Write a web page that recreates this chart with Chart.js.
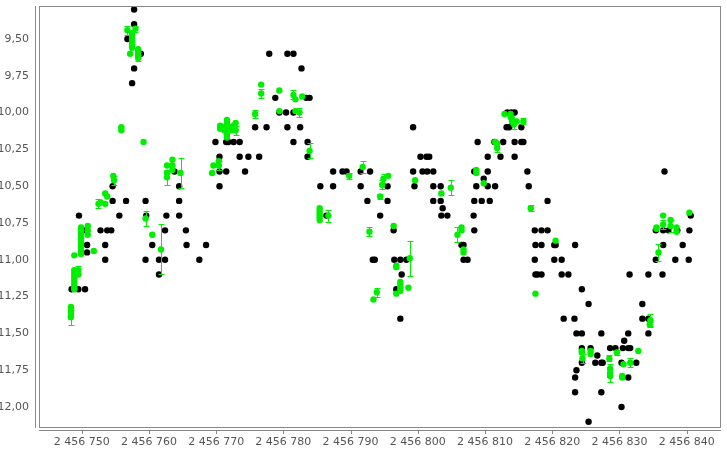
<!DOCTYPE html>
<html>
<head>
<meta charset="utf-8">
<script src="https://cdn.jsdelivr.net/npm/chart.js@4.4.1/dist/chart.umd.min.js"></script>
<style>
  body { margin: 0; background: #fff; }
  #wrap { width: 727px; height: 454px; }
</style>
</head>
<body>
<div id="wrap"><canvas id="chart" width="727" height="454"></canvas></div>
<script>
// Julian dates are kept as days after JD0
const JD0 = 2456700;

// visual estimates (black)
const visDay = [
  57.8, 57.8, 56.8, 58.8, 57.8, 57.5,
  54.6, 54.6, 56.6, 59.5, 64.5, 63.8, 64.5,
  49.6, 55.6, 59.6, 62.6, 64.5,
  50.6, 52.8, 53.8, 54.4, 62.4, 65.5,
  50.8, 53.5, 60.5, 65.6, 68.5, 50.8,
  53.5, 59.5, 61.5, 62.4, 67.5, 61.5,
  48.5, 49.5, 50.5,
  77.9, 80.6, 81.5, 82.7, 78.8, 83.4, 83.9,
  79.4, 80.4, 81.5, 75.8, 77.5, 80.6, 82.5,
  69.9, 71.5, 71.8, 72.6, 73.5, 81.5, 83.6,
  70.5, 73.5, 74.8, 76.4, 83.6,
  70.5, 71.5, 74.3, 70.5, 85.5, 86.4,
  99.3, 100.4, 101.3, 101.7,
  87.4, 88.8, 89.4, 91.5, 92.9, 99.3, 100.7, 101.4, 102.3,
  87.4, 91.5, 95.5, 99.5, 102.3, 103.4,
  92.5, 95.5, 102.3, 103.4, 103.7,
  103.5, 104.4, 94.4, 96.4,
  93.3, 93.6, 96.5, 97.4, 98.3, 97.6, 96.8, 97.4,
  113.3, 113.9, 114.4, 113.2, 113.6, 115.4,
  108.9, 111.4, 112.7, 114.4, 115.4, 115.7,
  110.4, 112.3, 114.4, 108.4, 110.4, 116.3, 109.8,
  108.7, 110.4, 111.5, 116.5,
  108.4, 109.5, 110.7, 119.3, 108.3,
  108.4, 117.4, 118.4, 119.3,
  106.5, 106.8, 117.5, 118.4, 120.3, 120.5, 123.4,
  106.8, 107.4, 117.4, 120.3, 121.4,
  117.5, 117.8, 118.4, 121.4, 122.4,
  124.4, 125.4, 133.4, 121.7, 123.3, 133.4, 134.3,
  123.6, 124.4, 127.3, 131.3, 134.3, 130.7,
  124.4, 125.7, 128.6, 129.4, 130.5, 131.3, 131.6, 126.7,
  124.4, 126.4, 127.3, 127.5, 130.3, 132.5, 123.6,
  123.4, 131.3, 123.4, 127.3, 130.3, 125.4,
  136.7, 140.6, 135.4, 136.5, 137.3, 138.6, 140.4,
  136.5, 139.4, 135.4, 138.3, 140.3,
  131.5, 134.3, 136.4
];
const visMag = [
  9.3, 9.4, 9.5, 9.6, 9.7, 9.8,
  10.5, 10.6, 10.6, 10.6, 10.6, 10.4, 10.5,
  10.7, 10.7, 10.7, 10.7, 10.7,
  10.8, 10.8, 10.8, 10.8, 10.8, 10.8,
  10.9, 10.9, 10.9, 10.9, 10.9, 10.95,
  11.0, 11.0, 11.0, 11.0, 11.0, 11.1,
  11.2, 11.2, 11.2,
  9.6, 9.6, 9.6, 9.7, 9.9, 9.9, 9.9,
  10.0, 10.0, 10.0, 10.1, 10.1, 10.1, 10.1,
  10.2, 10.2, 10.2, 10.2, 10.2, 10.2, 10.2,
  10.3, 10.3, 10.3, 10.3, 10.3,
  10.4, 10.4, 10.4, 10.5, 10.5, 10.7,
  10.1, 10.3, 10.3, 10.3,
  10.4, 10.4, 10.4, 10.4, 10.4, 10.4, 10.4, 10.4, 10.4,
  10.5, 10.5, 10.5, 10.5, 10.5, 10.5,
  10.6, 10.6, 10.6, 10.6, 10.65,
  10.7, 10.7, 10.7, 10.8,
  11.0, 11.0, 11.0, 11.0, 11.0, 11.1, 11.2, 11.4,
  10.0, 10.0, 10.0, 10.1, 10.1, 10.1,
  10.2, 10.2, 10.2, 10.2, 10.2, 10.2,
  10.3, 10.3, 10.3, 10.4, 10.4, 10.4, 10.45,
  10.5, 10.5, 10.5, 10.5,
  10.6, 10.6, 10.6, 10.6, 10.7,
  10.8, 10.8, 10.8, 10.8,
  10.9, 10.9, 10.9, 10.9, 10.9, 10.9, 10.9,
  11.0, 11.0, 11.0, 11.0, 11.0,
  11.1, 11.1, 11.1, 11.1, 11.1,
  11.2, 11.3, 11.3, 11.4, 11.4, 11.4, 11.4,
  11.5, 11.5, 11.5, 11.5, 11.5, 11.55,
  11.6, 11.6, 11.6, 11.6, 11.6, 11.6, 11.6, 11.65,
  11.7, 11.7, 11.7, 11.7, 11.7, 11.7, 11.75,
  11.8, 11.8, 11.9, 11.9, 12.0, 12.1,
  10.4, 10.7, 10.8, 10.8, 10.8, 10.8, 10.8,
  10.9, 10.9, 11.0, 11.0, 11.0,
  11.1, 11.1, 11.1
];

// V measurements (green) with their errors
const vDay = [
  48.4, 48.4, 48.4, 48.4, 48.4,
  48.9, 48.9, 48.9, 48.9, 48.9, 48.9, 48.9, 48.9,
  49.5, 49.5, 48.9,
  49.9, 49.9, 49.9, 49.9, 49.9, 49.9, 49.9, 49.9, 49.9, 49.9,
  50.9, 50.9, 50.9, 51.8,
  52.5, 52.8, 53.5, 53.5, 53.8, 54.7, 54.8,
  55.9, 55.9, 57.2, 56.8, 58.0,
  57.5, 57.5, 57.5, 57.5, 57.5, 57.5, 58.4, 58.4, 58.4, 58.4,
  59.2, 59.5, 60.5, 61.8,
  62.7, 62.7, 62.7, 63.5, 63.5, 63.5, 64.7,
  69.4, 69.6, 70.4, 70.4,
  70.6, 70.6, 71.2, 71.2,
  71.6, 71.6, 71.6, 71.6, 71.6, 71.6, 71.6,
  72.2, 72.2, 72.6, 72.6, 72.9, 72.9,
  75.8, 76.7, 76.7, 79.4, 79.4, 81.5, 81.8, 81.8, 82.4, 82.8, 83.9,
  85.4, 85.4, 85.4, 85.4, 85.4, 86.7,
  89.8, 91.8, 92.8, 93.4, 93.9, 94.4, 94.7, 94.9, 95.6, 96.4,
  96.8, 96.8, 96.8, 97.4, 97.4, 97.4, 97.4, 98.6, 98.8, 99.6,
  103.5, 104.9, 105.9, 106.5, 106.5, 106.8, 106.8,
  108.7, 108.7, 109.8, 111.5, 111.8, 111.8,
  112.9, 113.8, 113.8, 114.0, 114.0, 114.3, 114.7, 115.7,
  116.8, 117.5, 120.5,
  124.4, 124.4, 124.5, 125.7, 125.7, 128.5, 128.6, 128.6, 128.6, 129.6,
  130.4, 130.4, 130.6, 131.6, 132.8, 134.5, 134.6,
  135.5, 135.5, 135.8, 136.5, 136.5, 137.6, 137.6, 138.5, 138.5, 140.4
];
const vMag = [
  11.32, 11.34, 11.36, 11.38, 11.39,
  11.07, 11.09, 11.11, 11.13, 11.15, 11.17, 11.19, 11.20,
  11.07, 11.10, 10.97,
  10.78, 10.80, 10.82, 10.84, 10.86, 10.88, 10.90, 10.92, 10.94, 10.96,
  10.77, 10.80, 10.83, 10.94,
  10.62, 10.61, 10.55, 10.62, 10.57, 10.43, 10.46,
  10.10, 10.12, 9.60, 9.44, 9.43,
  9.46, 9.48, 9.50, 9.52, 9.54, 9.56, 9.57, 9.59, 9.61, 9.63,
  10.20, 10.72, 10.83, 10.93,
  10.36, 10.41, 10.44, 10.32, 10.36, 10.39, 10.41,
  10.41, 10.36, 10.33, 10.36,
  10.09, 10.11, 10.10, 10.12,
  10.05, 10.07, 10.09, 10.11, 10.13, 10.15, 10.17,
  10.10, 10.12, 10.09, 10.11, 10.07, 10.12,
  10.01, 9.81, 9.87, 9.85, 9.99, 9.88, 9.91, 9.99, 10.00, 9.89, 10.26,
  10.65, 10.67, 10.69, 10.71, 10.73, 10.70,
  10.43, 10.37, 10.81, 11.27, 11.22, 10.57, 10.49, 10.45, 10.43, 10.77,
  11.04, 11.05, 11.23, 11.15, 11.17, 11.19, 11.21, 11.19, 10.99, 10.46,
  10.55, 10.51, 10.83, 10.78, 10.80, 10.93, 10.95,
  10.39, 10.41, 10.48, 10.20, 10.21, 10.24,
  10.01, 10.01, 10.03, 10.04, 10.06, 10.08, 10.06, 10.06,
  10.65, 11.23, 10.87,
  11.62, 11.63, 11.67, 11.62, 11.64, 11.67, 11.74, 11.77, 11.79, 11.63,
  11.79, 11.80, 11.71, 11.70, 11.62, 11.44, 11.41,
  10.78, 10.79, 10.95, 10.70, 10.76, 10.73, 10.77, 10.78, 10.81, 10.68
];
const vErr = [
  0, 0, 0, 0, 0.05,
  0, 0, 0, 0, 0, 0, 0, 0,
  0.03, 0, 0,
  0, 0, 0, 0, 0, 0, 0, 0, 0, 0,
  0, 0, 0, 0,
  0.03, 0, 0, 0, 0, 0, 0.03,
  0, 0, 0, 0.03, 0.02,
  0, 0, 0, 0, 0, 0, 0, 0, 0, 0.02,
  0, 0.05, 0, 0.17,
  0, 0, 0.05, 0, 0, 0, 0.1,
  0, 0, 0, 0.03,
  0, 0, 0, 0,
  0, 0, 0, 0, 0, 0, 0,
  0, 0, 0, 0.02, 0, 0.03,
  0.03, 0, 0.03, 0, 0, 0.03, 0, 0, 0.03, 0, 0.05,
  0, 0, 0, 0, 0, 0.04,
  0.02, 0.04, 0.03, 0, 0.03, 0.02, 0.03, 0.03, 0, 0,
  0, 0, 0, 0, 0, 0, 0, 0, 0.12, 0,
  0, 0.05, 0.05, 0, 0, 0, 0,
  0, 0, 0, 0, 0, 0.03,
  0, 0, 0, 0, 0, 0.03, 0, 0.02,
  0.02, 0, 0,
  0, 0, 0.03, 0, 0, 0.02, 0, 0.06, 0, 0.02,
  0, 0, 0, 0.03, 0, 0.02, 0.04,
  0, 0, 0.06, 0, 0.03, 0, 0.04, 0, 0, 0
];

const xMin = JD0 + 43.65, xMax = JD0 + 145.1;
const yMin = 9.276, yMax = 12.136;
const GREEN = '#00ee00';
const AXIS = '#888888';

function fmtJD(v) {
  return String(Math.round(v)).replace(/\B(?=(\d{3})+(?!\d))/g, ' ');
}

// plot frame, offset axis lines, x tick marks and the V error bars
const framePlugin = {
  id: 'frame',
  afterDatasetsDraw(chart) {
    const ctx = chart.ctx;
    const ys = chart.scales.y;
    const meta = chart.getDatasetMeta(0);
    ctx.save();
    ctx.strokeStyle = GREEN;
    ctx.lineWidth = 1;
    vErr.forEach((e, i) => {
      if (!e) return;
      const x = Math.round(meta.data[i].x) + 0.5;
      const y1 = Math.round(ys.getPixelForValue(vMag[i] - e)) + 0.5;
      const y2 = Math.round(ys.getPixelForValue(vMag[i] + e)) + 0.5;
      ctx.beginPath();
      ctx.moveTo(x, y1); ctx.lineTo(x, y2);
      ctx.moveTo(x - 3, y1); ctx.lineTo(x + 3, y1);
      ctx.moveTo(x - 3, y2); ctx.lineTo(x + 3, y2);
      ctx.stroke();
    });
    ctx.restore();
  },
  afterDraw(chart) {
    const ctx = chart.ctx;
    const a = chart.chartArea;
    const xs = chart.scales.x;
    ctx.save();
    ctx.strokeStyle = AXIS;
    ctx.lineWidth = 1;
    ctx.strokeRect(a.left + 0.5, a.top + 0.5, a.right - a.left - 1, a.bottom - a.top);
    ctx.beginPath();
    ctx.moveTo(a.left - 3.5, a.top);
    ctx.lineTo(a.left - 3.5, a.bottom + 1);
    ctx.moveTo(a.left, a.bottom + 3.5);
    ctx.lineTo(a.right, a.bottom + 3.5);
    xs.ticks.forEach(t => {
      const px = Math.round(xs.getPixelForValue(t.value)) + 0.5;
      ctx.moveTo(px, a.bottom + 3);
      ctx.lineTo(px, a.bottom + 7);
    });
    ctx.stroke();
    ctx.restore();
  }
};

const tickFont = { family: 'DejaVu Sans', size: 11 };

new Chart(document.getElementById('chart'), {
  type: 'scatter',
  data: {
    datasets: [
      {
        label: 'V',
        data: vDay.map((d, i) => ({ x: JD0 + d, y: vMag[i] })),
        backgroundColor: GREEN,
        borderWidth: 0,
        pointRadius: 3.2,
        pointHoverRadius: 3.2
      },
      {
        label: 'Vis.',
        data: visDay.map((d, i) => ({ x: JD0 + d, y: visMag[i] })),
        backgroundColor: '#000000',
        borderWidth: 0,
        pointRadius: 3.2,
        pointHoverRadius: 3.2
      }
    ]
  },
  options: {
    responsive: false,
    animation: false,
    devicePixelRatio: 1,
    layout: { padding: { top: 6, right: 6, left: 0, bottom: 0 } },
    plugins: {
      legend: { display: false },
      tooltip: { enabled: false }
    },
    scales: {
      x: {
        type: 'linear',
        min: xMin,
        max: xMax,
        afterFit: s => { s.height = 27; s.paddingLeft = 0; s.paddingRight = 0; },
        grid: { display: false, drawTicks: false },
        border: { display: false },
        ticks: {
          stepSize: 10,
          includeBounds: false,
          autoSkip: false,
          maxRotation: 0,
          padding: 9,
          color: '#555555',
          font: tickFont,
          callback: v => fmtJD(v)
        }
      },
      y: {
        type: 'linear',
        reverse: true,
        min: yMin,
        max: yMax,
        afterFit: s => { s.width = 39; s.paddingTop = 0; s.paddingBottom = 0; },
        grid: { display: false, drawTicks: false },
        border: { display: false },
        ticks: {
          stepSize: 0.25,
          includeBounds: false,
          padding: 10,
          color: '#555555',
          font: tickFont,
          callback: v => v.toFixed(2).replace('.', ',')
        }
      }
    }
  },
  plugins: [framePlugin]
});
</script>
</body>
</html>
